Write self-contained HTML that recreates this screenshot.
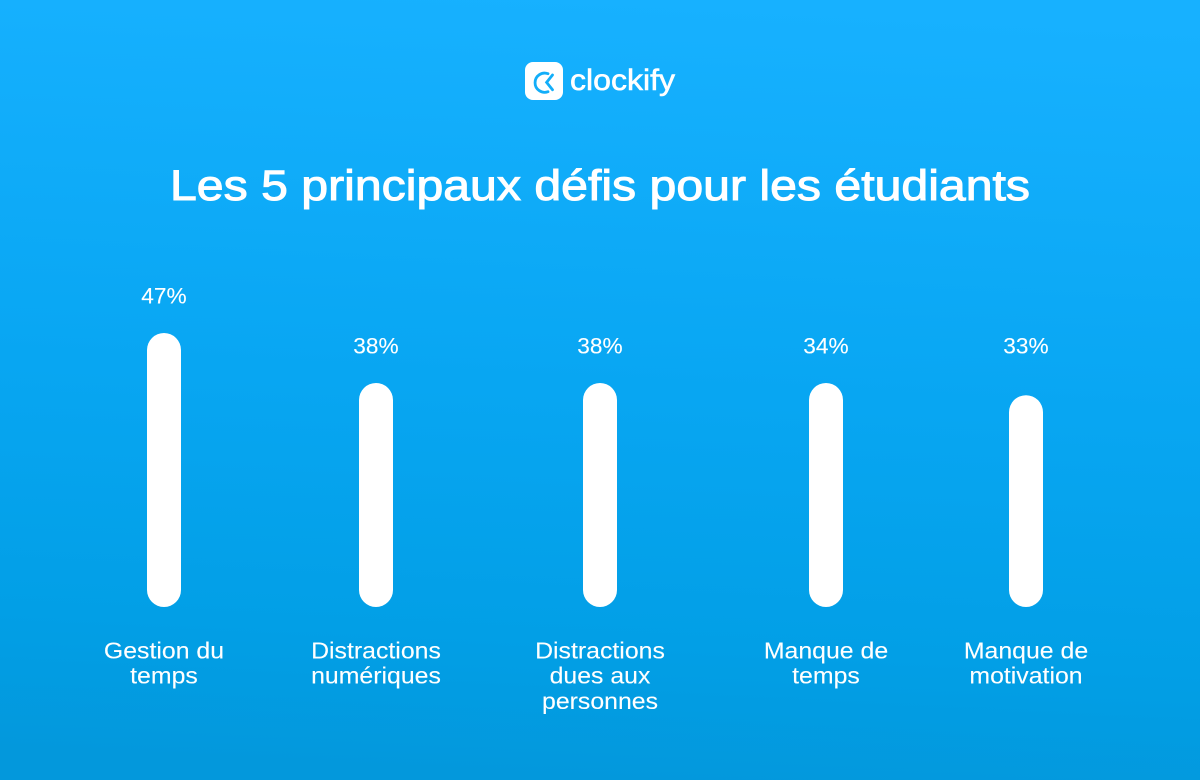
<!DOCTYPE html>
<html lang="fr">
<head>
<meta charset="utf-8">
<title>Les 5 principaux défis pour les étudiants</title>
<style>
html,body{margin:0;padding:0;width:1200px;height:780px;overflow:hidden;background:#0aa8f5}
svg{display:block}
text{font-family:"Liberation Sans",sans-serif;fill:#fff}
</style>
</head>
<body>
<svg id="chart" width="1200" height="780" viewBox="0 0 1200 780" xmlns="http://www.w3.org/2000/svg">
  <defs>
    <linearGradient id="bg" x1="0.54" y1="0" x2="0.46" y2="1">
      <stop offset="0" stop-color="#17b1ff"/>
      <stop offset="0.5" stop-color="#08a6f2"/>
      <stop offset="0.82" stop-color="#029fe6"/>
      <stop offset="1" stop-color="#0398dc"/>
    </linearGradient>
  </defs>
  <rect width="1200" height="780" fill="url(#bg)"/>
  <g>
    <rect x="525" y="62" width="38" height="38" rx="8" fill="#fff"/>
    <path d="M548 73.7A9.6 9.6 0 1 0 548 91.7" fill="none" stroke="#12aef9" stroke-width="2.8" stroke-linecap="round"/>
    <path d="M552.5 75L546.6 82.4L552.5 89.8" fill="none" stroke="#12aef9" stroke-width="2.8" stroke-linecap="round"/>
    <text x="570" y="90" font-size="30" stroke="#fff" stroke-width="0.6" textLength="105" lengthAdjust="spacingAndGlyphs">clockify</text>
  </g>
  <text x="170" y="200" font-size="43" stroke="#fff" stroke-width="1" textLength="860" lengthAdjust="spacingAndGlyphs">Les 5 principaux défis pour les étudiants</text>
  <g id="bars"></g>
</svg>
<script>
const categories = [
  ["Gestion du", "temps"],
  ["Distractions", "numériques"],
  ["Distractions", "dues aux", "personnes"],
  ["Manque de", "temps"],
  ["Manque de", "motivation"]
];
const printedPercents = [47, 38, 38, 34, 33];
const drawnValues = [47, 38, 38, 38, 35.8];

const svgNS = "http://www.w3.org/2000/svg";
const barsGroup = document.getElementById("bars");
const baselineY = 607;
const barWidth = 34;
const labelFloorValue = 38;

function xScale(i) {
  const slotNudge = [0, -3.5, 5, 15.5, 0];
  return 164 + 215.5 * i + slotNudge[i];
}
function yScale(v) {
  return baselineY - (12.9 + 5.556 * v);
}
function addText(parent, x, y, str, size, stretch) {
  const t = document.createElementNS(svgNS, "text");
  t.setAttribute("x", x);
  t.setAttribute("y", y);
  t.setAttribute("text-anchor", "middle");
  t.setAttribute("font-size", size);
  t.setAttribute("stroke", "#fff");
  t.setAttribute("stroke-width", "0.1");
  t.textContent = str;
  parent.appendChild(t);
  t.setAttribute("textLength", (t.getComputedTextLength() * stretch).toFixed(1));
  t.setAttribute("lengthAdjust", "spacingAndGlyphs");
  return t;
}

categories.forEach(function (lines, i) {
  const cx = xScale(i);
  const top = yScale(drawnValues[i]);

  const bar = document.createElementNS(svgNS, "rect");
  
  
  bar.setAttribute("x", cx - barWidth / 2);
  bar.setAttribute("y", top);
  bar.setAttribute("width", barWidth);
  bar.setAttribute("height", baselineY - top);
  bar.setAttribute("rx", barWidth / 2);
  bar.setAttribute("fill", "#fff");
  barsGroup.appendChild(bar);

  const labelY = yScale(Math.max(drawnValues[i], labelFloorValue)) - 29.6;
  const valueLabel = addText(barsGroup, cx, labelY, printedPercents[i] + "%", 22, 1.03);
  
  

  lines.forEach(function (line, j) {
    const catLabel = addText(barsGroup, cx, 658.3 + j * 25.3, line, 23, 1.08);
    
    
  });
});
</script>
</body>
</html>
